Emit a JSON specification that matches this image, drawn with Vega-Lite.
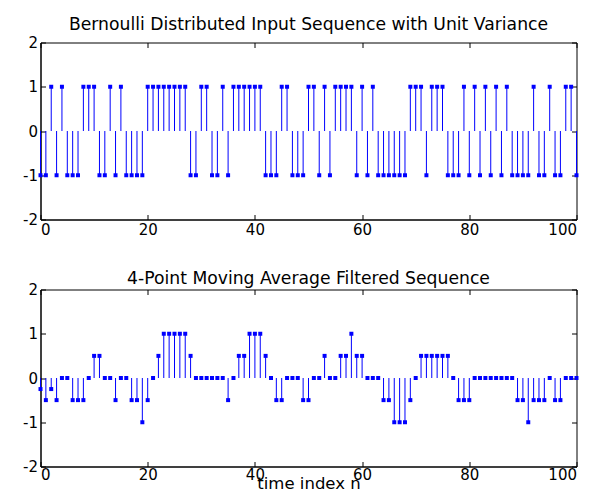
{
  "$schema": "https://vega.github.io/schema/vega-lite/v6.json",
  "background": "white",
  "padding": {"left": 21.5, "top": 14.5, "right": 6, "bottom": 2},
  "spacing": 31,
  "config": {
    "font": "DejaVu Sans",
    "view": {"stroke": "black", "strokeWidth": 1},
    "axis": {
      "grid": false,
      "domainColor": "black",
      "tickColor": "black",
      "labelColor": "black",
      "labelFontSize": 15,
      "labelFont": "DejaVu Sans",
      "tickSize": -5,
      "labelPadding": 8,
      "titleColor": "black",
      "titleFontWeight": "normal",
      "titleFontSize": 16.5,
      "titleFont": "DejaVu Sans"
    },
    "title": {"fontSize": 17.2, "fontWeight": "normal", "color": "black", "font": "DejaVu Sans"}
  },
  "datasets": {
    "d": [
      {"n":0,"input":-1,"output":-0.25},{"n":1,"input":-1,"output":-0.5},{"n":2,"input":1,"output":-0.25},{"n":3,"input":-1,"output":-0.5},
      {"n":4,"input":1,"output":0},{"n":5,"input":-1,"output":0},{"n":6,"input":-1,"output":-0.5},{"n":7,"input":-1,"output":-0.5},
      {"n":8,"input":1,"output":-0.5},{"n":9,"input":1,"output":0},{"n":10,"input":1,"output":0.5},{"n":11,"input":-1,"output":0.5},
      {"n":12,"input":-1,"output":0},{"n":13,"input":1,"output":0},{"n":14,"input":-1,"output":-0.5},{"n":15,"input":1,"output":0},
      {"n":16,"input":-1,"output":0},{"n":17,"input":-1,"output":-0.5},{"n":18,"input":-1,"output":-0.5},{"n":19,"input":-1,"output":-1},
      {"n":20,"input":1,"output":-0.5},{"n":21,"input":1,"output":0},{"n":22,"input":1,"output":0.5},{"n":23,"input":1,"output":1},
      {"n":24,"input":1,"output":1},{"n":25,"input":1,"output":1},{"n":26,"input":1,"output":1},{"n":27,"input":1,"output":1},
      {"n":28,"input":-1,"output":0.5},{"n":29,"input":-1,"output":0},{"n":30,"input":1,"output":0},{"n":31,"input":1,"output":0},
      {"n":32,"input":-1,"output":0},{"n":33,"input":-1,"output":0},{"n":34,"input":1,"output":0},{"n":35,"input":-1,"output":-0.5},
      {"n":36,"input":1,"output":0},{"n":37,"input":1,"output":0.5},{"n":38,"input":1,"output":0.5},{"n":39,"input":1,"output":1},
      {"n":40,"input":1,"output":1},{"n":41,"input":1,"output":1},{"n":42,"input":-1,"output":0.5},{"n":43,"input":-1,"output":0},
      {"n":44,"input":-1,"output":-0.5},{"n":45,"input":1,"output":-0.5},{"n":46,"input":1,"output":0},{"n":47,"input":-1,"output":0},
      {"n":48,"input":-1,"output":0},{"n":49,"input":-1,"output":-0.5},{"n":50,"input":1,"output":-0.5},{"n":51,"input":1,"output":0},
      {"n":52,"input":-1,"output":0},{"n":53,"input":1,"output":0.5},{"n":54,"input":-1,"output":0},{"n":55,"input":1,"output":0},
      {"n":56,"input":1,"output":0.5},{"n":57,"input":1,"output":0.5},{"n":58,"input":1,"output":1},{"n":59,"input":-1,"output":0.5},
      {"n":60,"input":1,"output":0.5},{"n":61,"input":-1,"output":0},{"n":62,"input":1,"output":0},{"n":63,"input":-1,"output":0},
      {"n":64,"input":-1,"output":-0.5},{"n":65,"input":-1,"output":-0.5},{"n":66,"input":-1,"output":-1},{"n":67,"input":-1,"output":-1},
      {"n":68,"input":-1,"output":-1},{"n":69,"input":1,"output":-0.5},{"n":70,"input":1,"output":0},{"n":71,"input":1,"output":0.5},
      {"n":72,"input":-1,"output":0.5},{"n":73,"input":1,"output":0.5},{"n":74,"input":1,"output":0.5},{"n":75,"input":1,"output":0.5},
      {"n":76,"input":-1,"output":0.5},{"n":77,"input":-1,"output":0},{"n":78,"input":-1,"output":-0.5},{"n":79,"input":1,"output":-0.5},
      {"n":80,"input":-1,"output":-0.5},{"n":81,"input":1,"output":0},{"n":82,"input":-1,"output":0},{"n":83,"input":1,"output":0},
      {"n":84,"input":-1,"output":0},{"n":85,"input":1,"output":0},{"n":86,"input":-1,"output":0},{"n":87,"input":1,"output":0},
      {"n":88,"input":-1,"output":0},{"n":89,"input":-1,"output":-0.5},{"n":90,"input":-1,"output":-0.5},{"n":91,"input":-1,"output":-1},
      {"n":92,"input":1,"output":-0.5},{"n":93,"input":-1,"output":-0.5},{"n":94,"input":-1,"output":-0.5},{"n":95,"input":1,"output":0},
      {"n":96,"input":-1,"output":-0.5},{"n":97,"input":-1,"output":-0.5},{"n":98,"input":1,"output":0},{"n":99,"input":1,"output":0},
      {"n":100,"input":-1,"output":0}
    ]
  },
  "vconcat": [
    {
      "width": 536,
      "height": 177,
      "title": {"text": "Bernoulli Distributed Input Sequence with Unit Variance", "offset": 2.5},
      "data": {"name": "d"},
      "resolve": {"axis": {"x": "independent", "y": "independent"}},
      "layer": [
        {
          "mark": {"type": "rule", "color": "#0000ff", "strokeWidth": 1},
          "encoding": {
            "x": {"field": "n", "type": "quantitative", "scale": {"domain": [0, 100], "nice": false}, "axis": {"values": [0, 20, 40, 60, 80, 100], "title": null}},
            "y": {"field": "input", "type": "quantitative", "scale": {"domain": [-2, 2], "nice": false}, "axis": {"values": [-2, -1, 0, 1, 2], "title": null, "labelExpr": "replace(datum.label, '\u2212', '-')"}},
            "y2": {"datum": 0}
          }
        },
        {
          "mark": {"type": "square", "color": "#0000ff", "filled": true, "opacity": 1, "size": 16},
          "encoding": {
            "x": {"field": "n", "type": "quantitative", "axis": {"orient": "top", "values": [0, 20, 40, 60, 80, 100], "labels": false, "title": null, "domain": false}},
            "y": {"field": "input", "type": "quantitative", "axis": {"orient": "right", "values": [-2, -1, 0, 1, 2], "labels": false, "title": null, "domain": false}}
          }
        }
      ]
    },
    {
      "width": 536,
      "height": 177,
      "title": {"text": "4-Point Moving Average Filtered Sequence", "offset": -5},
      "data": {"name": "d"},
      "resolve": {"axis": {"x": "independent", "y": "independent"}},
      "layer": [
        {
          "mark": {"type": "rule", "color": "#0000ff", "strokeWidth": 1},
          "encoding": {
            "x": {"field": "n", "type": "quantitative", "scale": {"domain": [0, 100], "nice": false}, "axis": {"values": [0, 20, 40, 60, 80, 100], "title": "time index n", "titlePadding": -7, "labelPadding": 6}},
            "y": {"field": "output", "type": "quantitative", "scale": {"domain": [-2, 2], "nice": false}, "axis": {"values": [-2, -1, 0, 1, 2], "title": null, "labelExpr": "replace(datum.label, '\u2212', '-')"}},
            "y2": {"datum": 0}
          }
        },
        {
          "mark": {"type": "square", "color": "#0000ff", "filled": true, "opacity": 1, "size": 16},
          "encoding": {
            "x": {"field": "n", "type": "quantitative", "axis": {"orient": "top", "values": [0, 20, 40, 60, 80, 100], "labels": false, "title": null, "domain": false}},
            "y": {"field": "output", "type": "quantitative", "axis": {"orient": "right", "values": [-2, -1, 0, 1, 2], "labels": false, "title": null, "domain": false}}
          }
        }
      ]
    }
  ]
}
